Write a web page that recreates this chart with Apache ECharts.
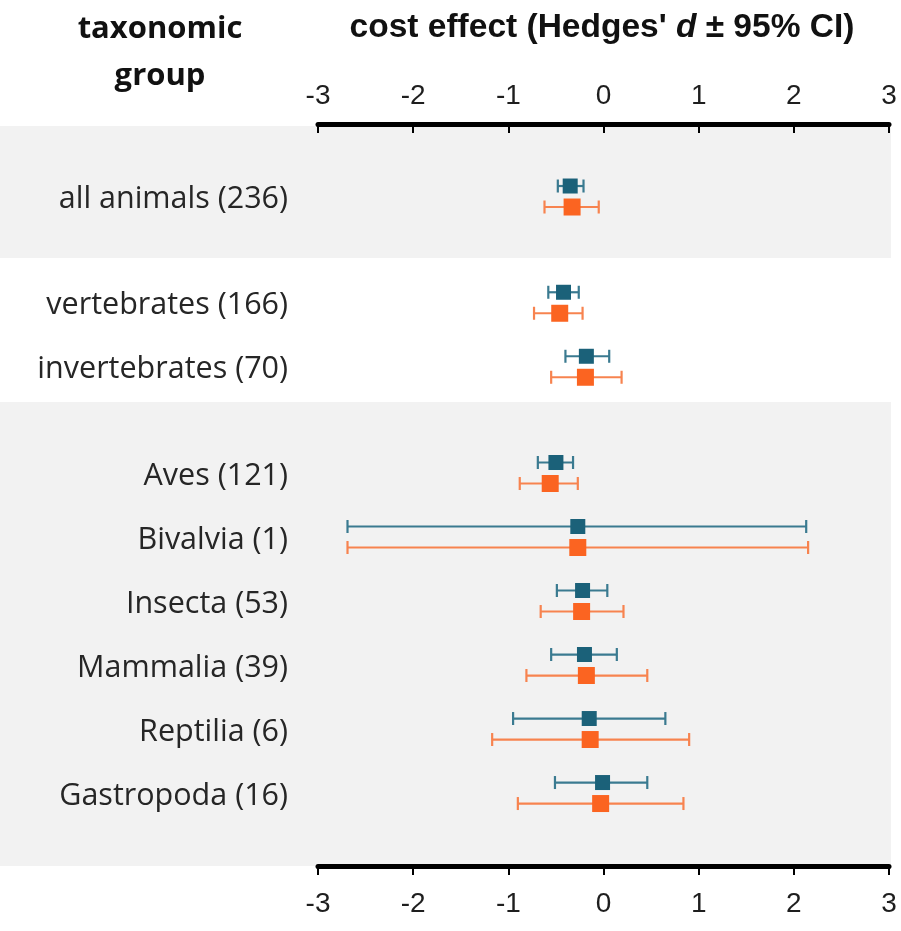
<!DOCTYPE html>
<html>
<head>
<meta charset="utf-8">
<script src="https://cdn.jsdelivr.net/npm/echarts@6/dist/echarts.min.js"></script>
<style>
  html, body { margin: 0; padding: 0; background: #fff; }
  #chart { width: 901px; height: 931px; }
</style>
</head>
<body>
<div id="chart"></div>
<script>
// Taxonomic groups (sample sizes in brackets) and the section each belongs to
const groups = ['all animals (236)', 'vertebrates (166)', 'invertebrates (70)', 'Aves (121)',
  'Bivalvia (1)', 'Insecta (53)', 'Mammalia (39)', 'Reptilia (6)', 'Gastropoda (16)'];
const sections = [0, 1, 1, 2, 2, 2, 2, 2, 2];

// First estimate (teal): Hedges' d with 95% CI
const tealMean = [-0.35, -0.42, -0.18, -0.50, -0.27, -0.22, -0.20, -0.15, -0.01];
const tealLow  = [-0.48, -0.58, -0.40, -0.69, -2.69, -0.49, -0.55, -0.95, -0.51];
const tealHigh = [-0.21, -0.26,  0.06, -0.32,  2.13,  0.04,  0.14,  0.65,  0.46];

// Second estimate (orange): Hedges' d with 95% CI
const orangeMean = [-0.33, -0.46, -0.19, -0.56, -0.27, -0.23, -0.18, -0.14, -0.03];
const orangeLow  = [-0.62, -0.73, -0.55, -0.88, -2.69, -0.66, -0.81, -1.17, -0.90];
const orangeHigh = [-0.05, -0.22,  0.19, -0.27,  2.15,  0.21,  0.46,  0.90,  0.84];

const xTicks = [-3, -2, -1, 0, 1, 2, 3];

// Row layout: one unit per group, with an extra gap between sections
const SECTION_GAP = 0.66;
const rowPos = groups.map((g, i) => i + sections[i] * SECTION_GAP);

const TEAL = '#1b6179';
const TEAL_BAR = '#3a7a90';
const ORANGE = '#fb6421';
const ORANGE_BAR = '#f7834f';

function buildData(mean, low, high) {
  return groups.map((g, i) => [rowPos[i], mean[i], low[i], high[i]]);
}

function makeRenderer(dy, boxSize, boxColor, barColor) {
  return function (params, api) {
    const y = api.value(0);
    const m = api.coord([api.value(1), y]);
    const lo = api.coord([api.value(2), y]);
    const hi = api.coord([api.value(3), y]);
    const cy = m[1] + dy;
    const cap = 6.5;
    const barStyle = { stroke: barColor, lineWidth: 2.2 };
    return {
      type: 'group',
      children: [
        { type: 'line', shape: { x1: lo[0], y1: cy, x2: hi[0], y2: cy }, style: barStyle },
        { type: 'line', shape: { x1: lo[0], y1: cy - cap, x2: lo[0], y2: cy + cap }, style: barStyle },
        { type: 'line', shape: { x1: hi[0], y1: cy - cap, x2: hi[0], y2: cy + cap }, style: barStyle },
        { type: 'rect', shape: { x: m[0] - boxSize / 2, y: cy - boxSize / 2, width: boxSize, height: boxSize },
          style: { fill: boxColor } }
      ]
    };
  };
}

const SANS = '"Liberation Sans", Arial, sans-serif';
const LABEL_FONT = '"Open Sans", "Noto Sans", sans-serif';

const axisCommon = {
  type: 'value', min: -3, max: 3, interval: 1,
  axisLine: { show: true, onZero: false, lineStyle: { color: '#000', width: 5 } },
  axisTick: { show: true, length: 9, lineStyle: { color: '#000', width: 2 } },
  splitLine: { show: false },
  axisLabel: {
    fontFamily: SANS, fontSize: 28, color: '#1e1e1e',
    formatter: v => (xTicks.indexOf(v) >= 0 ? String(v) : '')
  }
};

const chart = echarts.init(document.getElementById('chart'), null, { renderer: 'canvas' });

const option = {
  backgroundColor: '#fff',
  animation: false,
  grid: { left: 318, right: 12, top: 124, bottom: 65 },
  xAxis: [
    Object.assign({}, axisCommon, {
      position: 'top',
      axisTick: { show: true, inside: true, length: 9, lineStyle: { color: '#000', width: 2 } },
      axisLabel: Object.assign({}, axisCommon.axisLabel, { margin: 14 })
    }),
    Object.assign({}, axisCommon, {
      position: 'bottom',
      axisLabel: Object.assign({}, axisCommon.axisLabel, { margin: 24 })
    })
  ],
  yAxis: {
    type: 'value', inverse: true, min: -1.133, max: 10.46, show: false
  },
  series: [
    {
      type: 'custom', name: 'group labels', z: 3,
      renderItem: function (params, api) {
        const p = api.coord([-3, api.value(0)]);
        return {
          type: 'text',
          style: {
            x: p[0] - 30, y: p[1] + 3, text: groups[params.dataIndex],
            align: 'right', verticalAlign: 'middle',
            font: '30.5px ' + LABEL_FONT, fill: '#262626'
          }
        };
      },
      data: rowPos.map(r => [r]),
      encode: { y: 0 },
      clip: false
    },
    {
      type: 'custom', name: 'teal', z: 4,
      renderItem: makeRenderer(-10.5, 15, TEAL, TEAL_BAR),
      data: buildData(tealMean, tealLow, tealHigh),
      encode: { y: 0, x: [1, 2, 3] }
    },
    {
      type: 'custom', name: 'orange', z: 5,
      renderItem: makeRenderer(10.5, 17, ORANGE, ORANGE_BAR),
      data: buildData(orangeMean, orangeLow, orangeHigh),
      encode: { y: 0, x: [1, 2, 3] }
    }
  ],
  graphic: [
    {
      type: 'text', x: 602, y: 28,
      style: {
        text: '{b|cost effect (Hedges\' }{i|d}{b| ± 95% CI)}',
        align: 'center', verticalAlign: 'middle',
        rich: {
          b: { fontFamily: SANS, fontWeight: 'bold', fontSize: 33.5, fill: '#111' },
          i: { fontFamily: SANS, fontWeight: 'bold', fontStyle: 'italic', fontSize: 33.5, fill: '#111' }
        }
      }
    },
    {
      type: 'text', x: 160, y: 29,
      style: { text: 'taxonomic', align: 'center', verticalAlign: 'middle',
        font: 'bold 31px ' + LABEL_FONT, fill: '#111' }
    },
    {
      type: 'text', x: 160, y: 76,
      style: { text: 'group', align: 'center', verticalAlign: 'middle',
        font: 'bold 31px ' + LABEL_FONT, fill: '#111' }
    }
  ]
};

chart.setOption(option);

// Shaded section backgrounds spanning the label column and the plot
const bandEdges = [[-1.133, 0.96], [3.18, 10.46]];
const rightEdge = 901 - 12 + 2;
const bands = bandEdges.map(b => {
  const y0 = chart.convertToPixel({ yAxisIndex: 0 }, b[0]);
  const y1 = chart.convertToPixel({ yAxisIndex: 0 }, b[1]);
  return {
    type: 'rect', z: -10, silent: true,
    shape: { x: 0, y: y0 + 2, width: rightEdge, height: y1 - y0 - 2 },
    style: { fill: '#f2f2f2' }
  };
});
chart.setOption({ graphic: option.graphic.concat(bands) });
</script>
</body>
</html>
